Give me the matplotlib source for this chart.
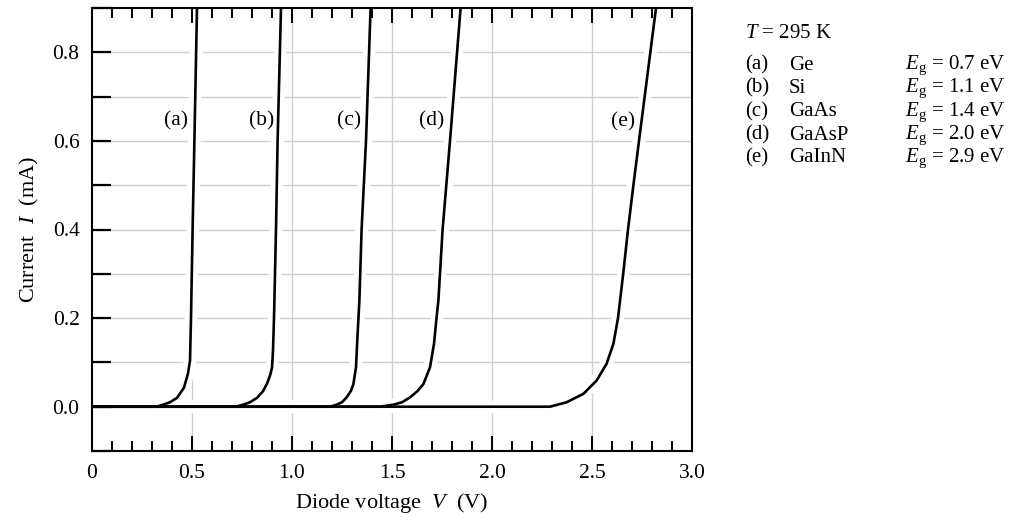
import matplotlib
matplotlib.use("Agg")
import matplotlib.pyplot as plt
from matplotlib.ticker import MultipleLocator

plt.rcParams["font.family"] = "Liberation Serif"
plt.rcParams["mathtext.fontset"] = "custom"
plt.rcParams["mathtext.rm"] = "Liberation Serif"
plt.rcParams["mathtext.it"] = "Liberation Serif:italic"

# I-V curves (V in volts, I in mA)
V_a = [0.00, 0.30, 0.33, 0.355, 0.39, 0.425, 0.46, 0.48, 0.49, 0.495, 0.503, 0.512, 0.525]
I_a = [0.00, 0.00, 0.001, 0.0045, 0.010, 0.020, 0.043, 0.075, 0.104, 0.20, 0.40, 0.60, 0.90]

V_b = [0.00, 0.72, 0.755, 0.79, 0.825, 0.855, 0.875, 0.89, 0.90, 0.905, 0.91, 0.92, 0.928, 0.945]
I_b = [0.00, 0.00, 0.0045, 0.010, 0.020, 0.035, 0.052, 0.070, 0.088, 0.127, 0.20, 0.40, 0.60, 0.90]

V_c = [0.00, 1.19, 1.223, 1.250, 1.273, 1.295, 1.307, 1.320, 1.328, 1.337, 1.348, 1.370, 1.393]
I_c = [0.00, 0.00, 0.0045, 0.010, 0.021, 0.036, 0.051, 0.089, 0.164, 0.24, 0.40, 0.60, 0.90]

V_d = [0.00, 1.44, 1.507, 1.55, 1.59, 1.627, 1.657, 1.69, 1.71, 1.723, 1.732, 1.753, 1.79, 1.843]
I_d = [0.00, 0.00, 0.0045, 0.010, 0.021, 0.035, 0.051, 0.089, 0.142, 0.202, 0.24, 0.40, 0.60, 0.90]

V_e = [0.00, 2.29, 2.373, 2.457, 2.523, 2.573, 2.607, 2.630, 2.656, 2.680, 2.707, 2.735, 2.82]
I_e = [0.00, 0.00, 0.010, 0.029, 0.059, 0.097, 0.142, 0.20, 0.30, 0.40, 0.50, 0.60, 0.90]

curve_tags = ["(a)", "(b)", "(c)", "(d)", "(e)"]
tag_V = [0.42, 0.848, 1.285, 1.698, 2.655]
tag_I = [0.645, 0.645, 0.645, 0.645, 0.643]

materials = ["Ge", "Si", "GaAs", "GaAsP", "GaInN"]
gaps = ["0.7", "1.1", "1.4", "2.0", "2.9"]
temperature = "295 K"

W, H = 1019, 520
fig = plt.figure(figsize=(W / 100, H / 100), dpi=100)
fig.patch.set_facecolor("white")
ax = fig.add_axes([92 / W, 1 - 451 / H, 600 / W, 443 / H])

# light grid, drawn underneath the curves
for gx in [0.5, 1.0, 1.5, 2.0, 2.5]:
    ax.axvline(gx, color="#cfcfcf", lw=1.0, zorder=1)
for gy in [0.1, 0.2, 0.3, 0.4, 0.5, 0.6, 0.7, 0.8]:
    ax.axhline(gy, color="#cfcfcf", lw=1.0, zorder=1)

curves = [(V_a, I_a), (V_b, I_b), (V_c, I_c), (V_d, I_d), (V_e, I_e)]
# white margin around every curve first, so the grid breaks next to the lines
for V, I in curves:
    ax.plot(V, I, color="white", lw=9, zorder=1.5, solid_capstyle="butt")
for V, I in curves:
    ax.plot(V, I, color="black", lw=1.9, zorder=2, solid_joinstyle="round")

for tag, x, y in zip(curve_tags, tag_V, tag_I):
    ax.text(x, y, tag, fontsize=15.5, ha="center", va="center", zorder=3)

ax.set_xlim(0, 3.0)
ax.set_ylim(-0.1, 0.9)
ax.set_axisbelow(False)

ax.xaxis.set_minor_locator(MultipleLocator(0.1))
ax.yaxis.set_minor_locator(MultipleLocator(0.1))
ax.set_xticks([0, 0.5, 1.0, 1.5, 2.0, 2.5, 3.0])
ax.set_xticklabels(["0", "0.5", "1.0", "1.5", "2.0", "2.5", "3.0"])
ax.set_yticks([0.0, 0.2, 0.4, 0.6, 0.8])
ax.set_yticklabels(["0.0", "0.2", "0.4", "0.6", "0.8"])

ax.tick_params(axis="x", which="major", direction="in", top=True, bottom=True,
               length=11, width=1.4, labelsize=15.5, pad=9)
ax.tick_params(axis="x", which="minor", direction="in", top=True, bottom=True,
               length=7, width=1.4)
ax.tick_params(axis="y", which="both", direction="in", left=True, right=False,
               length=14, width=1.6, labelsize=15.5, pad=9)

for spine in ax.spines.values():
    spine.set_linewidth(1.5)

ax.set_xlabel(r"Diode voltage  $V$  (V)", fontsize=16, labelpad=6)
ax.set_ylabel(r"Current  $I$  (mA)", fontsize=16, labelpad=8)

# side table: temperature, materials and band gaps
def fx(px):
    return px / W


def fy(py):
    return 1 - py / H


fig.text(fx(745), fy(33), r"$T$ = " + temperature, fontsize=15, va="center")
row_y = [65, 88, 112, 135, 158]
for tag, mat, eg, ry in zip(curve_tags, materials, gaps, row_y):
    fig.text(fx(745), fy(ry), tag, fontsize=15, va="center")
    fig.text(fx(789), fy(ry), mat, fontsize=15, va="center")
    fig.text(fx(905), fy(ry), r"$E_\mathrm{g}$ = " + eg + " eV", fontsize=15, va="center")

fig.savefig("out.png", dpi=100, facecolor="white")
